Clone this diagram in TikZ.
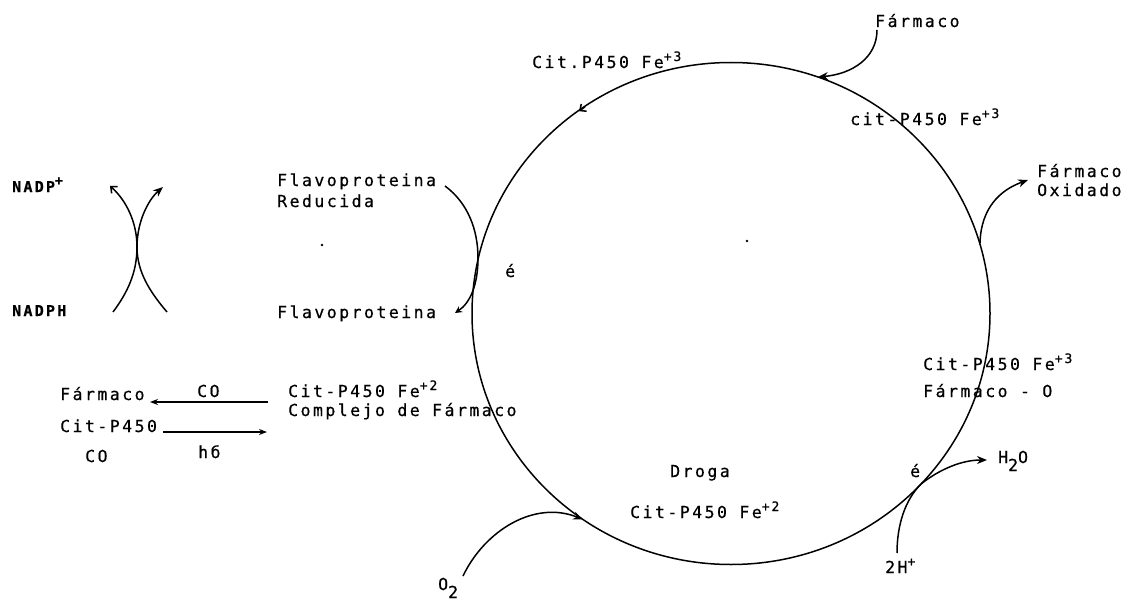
\documentclass[tikz,border=0pt]{standalone}
\usepackage{fontspec}
\usetikzlibrary{arrows.meta}
\newfontfamily\tw{DejaVu Sans Mono}[LetterSpace=15,FakeBold=0.6]
\newcommand\mysup[1]{\raisebox{7pt}{\fontsize{13}{13}\selectfont #1}}
\newcommand\mysub[1]{\raisebox{-8pt}{#1}}
\tikzset{
  lbl/.style={anchor=base west, inner sep=0pt, font=\tw\fontsize{16.5}{19}\selectfont},
  bl/.style={lbl, font=\tw\bfseries\fontsize{15}{19}\selectfont},
  ln/.style={line width=1.5pt},
  tip/.style={ln, -{Stealth[length=10pt,width=8pt]}},
  barb/.style={ln, -{Straight Barb[length=5pt,width=9pt]}},
}
\begin{document}
\begin{tikzpicture}[x=1pt,y=-1pt]
\useasboundingbox[fill=white] (0,0) rectangle (1128,602);

% cycle
\coordinate (C) at (731,313.5);
\draw[ln] (C) ellipse [x radius=259pt, y radius=251pt];
\coordinate (ch1) at (585,106.8);
\coordinate (ch2) at (579,111.2);
\draw[barb] (ch1) -- (ch2);

% labels
\node[lbl] (farmIn) at (875,27) {Fármaco};
\node[lbl] (citTop) at (532,68) {Cit.P450 Fe\mysup{+3}};
\node[lbl] (citB) at (850,125) {cit-P450 Fe\mysup{+3}};
\node[lbl] (farmOx1) at (1037,177) {Fármaco};
\node[lbl] (farmOx2) at (1037,196) {Oxidado};
\node[bl] (nadp) at (12,192) {NADP\mysup{+}};
\node[bl] (nadph) at (12,316) {NADPH};
\node[lbl] (flavR1) at (277,186) {Flavoproteina};
\node[lbl] (flavR2) at (277,207) {Reducida};
\node[lbl] (flav) at (277,318) {Flavoproteina};
\node[lbl] (e1) at (505,277) {é};
\node[lbl] (cplx1) at (288,397) {Cit-P450 Fe\mysup{+2}};
\node[lbl] (cplx2) at (288,416) {Complejo de Fármaco};
\node[lbl] (lfarm) at (60,400) {Fármaco};
\node[lbl] (lco1) at (197,397) {CO};
\node[lbl] (lcit) at (60,432) {Cit-P450};
\node[lbl] (lco2) at (85,462) {CO};
\node[lbl] (lhv) at (198,458) {hб};
\node[lbl] (ox1) at (923,370) {Cit-P450 Fe\mysup{+3}};
\node[lbl] (ox2) at (923,397) {Fármaco - O};
\node[lbl] (e2) at (910,477) {é};
\node[lbl] (h2o) at (998,463) {H\mysub{2}O};
\node[lbl] (hplus) at (885,573) {2H\mysup{+}};
\node[lbl] (droga) at (670,477) {Droga};
\node[lbl] (fe2) at (630,518) {Cit-P450 Fe\mysup{+2}};
\node[lbl] (o2) at (438,590) {O\mysub{2}};
\fill (322,245) circle (1.4pt);
\fill (747,241) circle (1.4pt);

% NADP / NADPH crossing
\coordinate (n1s) at (113,312);
\coordinate (n1e) at (110,186);
\coordinate (n2s) at (167,312);
\coordinate (n2e) at (163,187);
\coordinate (nm) at (137,247);
\draw[barb] (n1s) .. controls (128,292) and (137,272) .. (nm)
  .. controls (137,222) and (126,200) .. (n1e);
\draw[tip] (n2s) .. controls (150,292) and (137,272) .. (nm)
  .. controls (137,222) and (148,200) .. (n2e);

% flavoprotein
\coordinate (f1) at (445,186);
\coordinate (fm) at (478,258);
\coordinate (f2) at (455,313);
\draw[ln, -{Stealth[length=7pt,width=7pt]}] (f1) .. controls (468,203) and (478,230) .. (fm)
  .. controls (478,285) and (470,303) .. (f2);

% drug in
\coordinate (di1) at (877,30);
\coordinate (di2) at (818,77);
\draw[tip] (di1) .. controls (877,58) and (852,74) .. (di2);

% oxidized drug out
\coordinate (do1) at (980,243);
\coordinate (do2) at (1028,180);
\draw[tip] (do1) .. controls (981,208) and (1000,190) .. (do2);

% H2O and 2H+
\coordinate (w0) at (921,484);
\coordinate (w1) at (987,460);
\coordinate (hp) at (897,553);
\draw[tip] (w0) .. controls (940,469) and (962,460) .. (w1);
\draw[ln] (hp) .. controls (897,525) and (905,500) .. (w0);

% O2
\coordinate (oa) at (463,576);
\coordinate (ob) at (583,519.5);
\draw[tip] (oa) .. controls (485,530) and (535,500) .. (ob);

% CO photolysis arrows
\coordinate (a1s) at (268,402);
\coordinate (a1e) at (150,402);
\coordinate (a2s) at (163,432);
\coordinate (a2e) at (267,432);
\draw[ln, -{Stealth[length=8pt,width=6pt]}] (a1s) -- (a1e);
\draw[ln, -{Stealth[length=8pt,width=6pt]}] (a2s) -- (a2e);
\end{tikzpicture}
\end{document}
